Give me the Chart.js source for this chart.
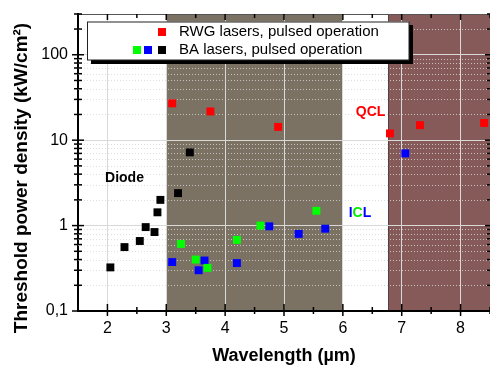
<!DOCTYPE html>
<html>
<head>
<meta charset="utf-8">
<script src="https://cdn.jsdelivr.net/npm/chart.js@4.4.1/dist/chart.umd.min.js"></script>
<style>
  html, body { margin: 0; padding: 0; background: #fff; overflow: hidden; }
  canvas { display: block; }
</style>
</head>
<body>
<canvas id="laserChart" width="490" height="367"></canvas>
<script>
/* DATA */
// RWG lasers, pulsed (red)
const rwgX = [3.10, 3.75, 4.90, 6.80, 7.31, 8.40];
const rwgY = [27, 21.7, 14.3, 12.0, 15.0, 15.9];
// BA lasers, pulsed - diodes (black)
const diodeX = [2.05, 2.29, 2.55, 2.65, 2.80, 2.85, 2.90, 3.20, 3.40];
const diodeY = [0.324, 0.56, 0.66, 0.96, 0.84, 1.43, 2.0, 2.4, 7.2];
// BA lasers, pulsed - green
const greenX = [3.25, 3.50, 3.70, 4.20, 4.60, 5.55];
const greenY = [0.61, 0.40, 0.32, 0.68, 1.0, 1.49];
// BA lasers, pulsed - blue
const blueX = [3.10, 3.55, 3.65, 4.20, 4.75, 5.25, 5.70, 7.06];
const blueY = [0.374, 0.30, 0.39, 0.364, 0.98, 0.80, 0.92, 7.0];

// axes
const xTicks = [2, 3, 4, 5, 6, 7, 8];
const yTicks = [0.1, 1, 10, 100];
const yTickLabels = ['0,1', '1', '10', '100'];

// shaded wavelength bands (µm)
const bandStart = [3, 6.77];
const bandEnd = [6, 8.5];
const bandColors = ['#7b7263', '#875a5a'];

// text labels in data coords
const noteText = ['Diode', 'QCL'];
const noteX = [2.29, 6.47];
const noteY = [3.6, 21.3];

const FONT = '"Liberation Sans", Arial, sans-serif';

function pts(xs, ys) {
    return xs.map((x, i) => ({x: x, y: ys[i]}));
}

/*helper: straight line*/
function tickLine(ctx, x1, y1, x2, y2) {
    ctx.beginPath();
    ctx.moveTo(x1, y1);
    ctx.lineTo(x2, y2);
    ctx.stroke();
}

const decor = {
    id: 'decor',
    beforeDraw(chart) {
        const {ctx, chartArea: a, scales: {x}} = chart;
        ctx.save();
        for (let i = 0; i < bandStart.length; i++) {
            const l = x.getPixelForValue(bandStart[i]);
            const r = Math.min(x.getPixelForValue(bandEnd[i]), a.right);
            ctx.fillStyle = bandColors[i];
            ctx.fillRect(l, a.top, r - l, a.bottom - a.top);
            ctx.strokeStyle = 'rgba(0,0,0,0.45)';
            ctx.lineWidth = 1;
            tickLine(ctx, Math.round(l) + 0.5, a.top, Math.round(l) + 0.5, a.bottom);
            if (r < a.right - 1) tickLine(ctx, Math.round(r) - 0.5, a.top, Math.round(r) - 0.5, a.bottom);
        }
        ctx.restore();
    },
    beforeDatasetsDraw(chart) {
        // dotted minor grid lines
        const {ctx, chartArea: a, scales: {y}} = chart;
        ctx.save();
        ctx.setLineDash([1, 2]);
        ctx.strokeStyle = 'rgba(215,215,215,0.8)';
        ctx.lineWidth = 1;
        for (let d = 0.1; d < 1000; d *= 10) {
            for (let m = 2; m <= 9; m++) {
                const v = d * m;
                if (v > y.max) break;
                const py = Math.round(y.getPixelForValue(v)) + 0.5;
                tickLine(ctx, a.left, py, a.right, py);
            }
        }
        ctx.restore();
    },
    afterDraw(chart) {
        const {ctx, chartArea: a, scales: {x, y}} = chart;
        ctx.save();

        // top frame line
        ctx.strokeStyle = '#555';
        ctx.lineWidth = 1;
        tickLine(ctx, a.left, a.top + 0.5, a.right, a.top + 0.5);

        // tick marks
        ctx.strokeStyle = '#000';
        ctx.lineWidth = 1.5;
        for (let v = 2; v <= 8.5; v += 0.5) {
            const px = x.getPixelForValue(v);
            const major = Number.isInteger(v);
            tickLine(ctx, px, a.bottom - (major ? 7 : 4), px, a.bottom + (major ? 5 : 3));
            tickLine(ctx, px, a.top, px, a.top + (major ? 6 : 4));
        }
        for (let d = 0.1; d < 1000; d *= 10) {
            for (let m = 1; m <= 9; m++) {
                const v = d * m;
                if (v > y.max * 1.0001) break;
                const py = y.getPixelForValue(v);
                const major = m === 1;
                tickLine(ctx, a.left - (major ? 6 : 4), py, a.left + (major ? 6 : 4), py);
                tickLine(ctx, a.right, py, a.right - (major ? 5 : 3), py);
            }
        }

        // axis titles
        ctx.fillStyle = '#000';
        ctx.font = 'bold 18px ' + FONT;
        ctx.textAlign = 'center';
        ctx.textBaseline = 'middle';
        ctx.fillText('Wavelength (µm)', 284, 356);
        ctx.save();
        ctx.translate(22, 178);
        ctx.rotate(-Math.PI / 2);
        ctx.font = 'bold 19px ' + FONT;
        ctx.fillText('Threshold power density (kW/cm²)', 0, 0);
        ctx.restore();

        // notes
        ctx.font = 'bold 14px ' + FONT;
        ctx.fillStyle = '#000';
        ctx.fillText(noteText[0], x.getPixelForValue(noteX[0]), y.getPixelForValue(noteY[0]));
        ctx.fillStyle = '#ff0000';
        ctx.fillText(noteText[1], x.getPixelForValue(noteX[1]), y.getPixelForValue(noteY[1]));
        // ICL, multi-coloured
        ctx.textAlign = 'left';
        let ix = x.getPixelForValue(6.32) - 13;
        const iy = y.getPixelForValue(1.4);
        [['I', '#0000ff'], ['C', '#00ee00'], ['L', '#0000ff']].forEach(([t, c]) => {
            ctx.fillStyle = c;
            ctx.fillText(t, ix, iy);
            ix += ctx.measureText(t).width;
        });

        // legend box with shadow
        ctx.fillStyle = '#000';
        ctx.fillRect(91, 25, 322, 39);
        ctx.fillStyle = '#fff';
        ctx.fillRect(87, 21.5, 322, 38.5);
        ctx.strokeStyle = '#222';
        ctx.lineWidth = 1;
        ctx.strokeRect(87.5, 22, 321.5, 38);
        const sq = (cx, cy, c) => { ctx.fillStyle = c; ctx.fillRect(cx - 4, cy - 4, 8, 8); };
        sq(162, 32, '#ff0000');
        sq(137, 50, '#00ff00');
        sq(148, 50, '#0000ff');
        sq(162, 50, '#000000');
        ctx.fillStyle = '#000';
        ctx.font = '15px ' + FONT;
        ctx.textAlign = 'left';
        ctx.fillText('RWG lasers, pulsed operation', 179, 32);
        ctx.fillText('BA lasers, pulsed operation', 179, 50);

        ctx.restore();
    }
};

function dataset(label, xs, ys, color) {
    return {
        label: label,
        data: pts(xs, ys),
        pointStyle: 'rect',
        pointRadius: 5.6,
        pointBorderWidth: 0,
        backgroundColor: color,
        borderColor: color
    };
}

new Chart(document.getElementById('laserChart'), {
    type: 'scatter',
    data: {
        datasets: [
            dataset('RWG lasers, pulsed operation', rwgX, rwgY, '#ff0000'),
            dataset('BA diode', diodeX, diodeY, '#000000'),
            dataset('BA green', greenX, greenY, '#00ff00'),
            dataset('BA blue', blueX, blueY, '#0000ff')
        ]
    },
    options: {
        responsive: false,
        animation: false,
        events: [],
        layout: { autoPadding: false, padding: { top: 14, right: 0, left: 0, bottom: 0 } },
        scales: {
            x: {
                type: 'linear',
                min: 1.5,
                max: 8.5,
                afterBuildTicks: (s) => { s.ticks = xTicks.map(v => ({value: v})); },
                afterFit: (s) => { s.height = 56; s.paddingLeft = 0; s.paddingRight = 0; },
                ticks: {
                    color: '#000',
                    padding: 8,
                    font: { family: FONT, size: 16 }
                },
                grid: { color: '#d9d9d9', lineWidth: 1, drawTicks: false },
                border: { color: '#000', width: 2 }
            },
            y: {
                type: 'logarithmic',
                min: 0.1,
                max: 300,
                afterBuildTicks: (s) => { s.ticks = yTicks.map(v => ({value: v})); },
                afterFit: (s) => { s.width = 78; s.paddingTop = 0; s.paddingBottom = 0; },
                ticks: {
                    color: '#000',
                    padding: 10,
                    font: { family: FONT, size: 16 },
                    callback: (v) => yTickLabels[yTicks.indexOf(v)]
                },
                grid: { color: '#d9d9d9', lineWidth: 1, drawTicks: false },
                border: { color: '#000', width: 2 }
            }
        },
        plugins: {
            legend: { display: false },
            tooltip: { enabled: false }
        }
    },
    plugins: [decor]
});
</script>
</body>
</html>
